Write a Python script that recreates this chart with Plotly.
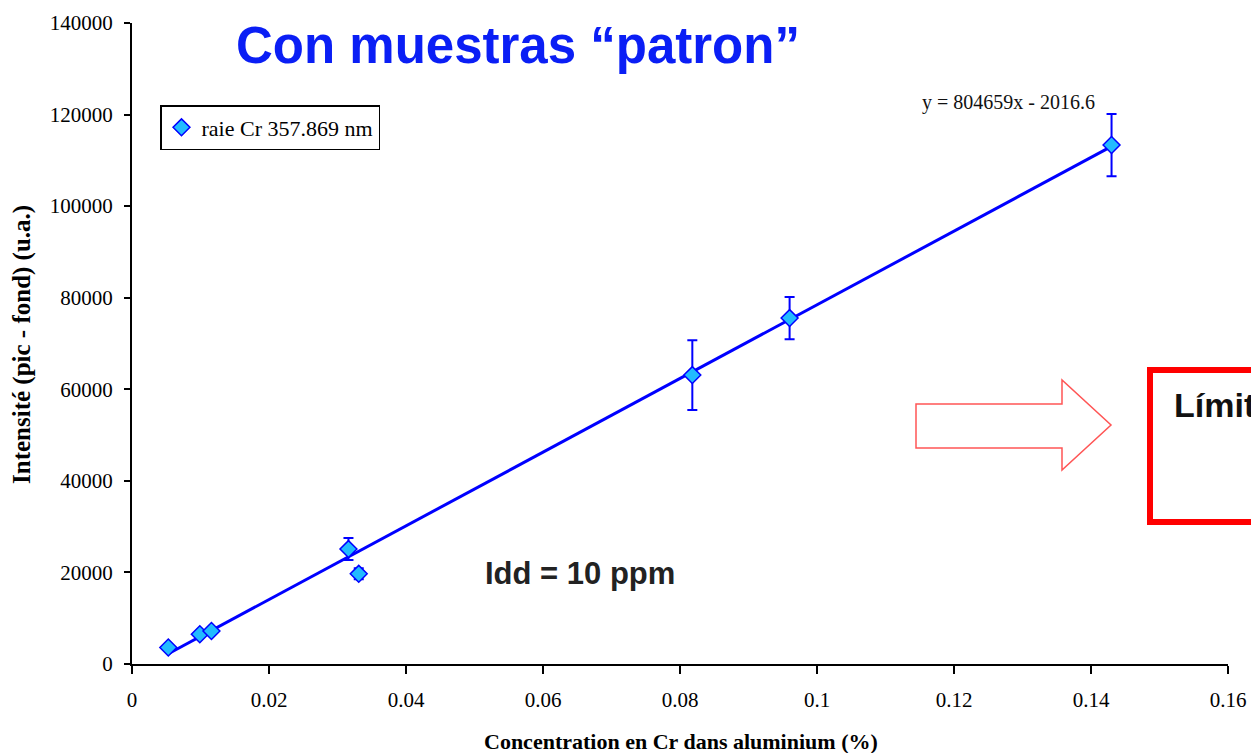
import numpy as np
import plotly.graph_objects as go

# Calibration standards: Cr concentration (%) vs net line intensity (a.u.)
conc_cr = [0.0053, 0.0099, 0.0116, 0.0316, 0.0331, 0.0818, 0.0960, 0.1430]
intensity = [3600, 6500, 7200, 25100, 19700, 63100, 75550, 113350]
intensity_err = [0, 0, 0, 2400, 1200, 7600, 4600, 6800]

# Linear fit reported on the chart
slope = 804659
intercept = -2016.6
fit_label = "y = 804659x - 2016.6"

series_name = "raie Cr 357.869 nm"
x_title = "Concentration en Cr dans aluminium (%)"
y_title = "Intensité (pic - fond) (u.a.)"
x_ticks = [0, 0.02, 0.04, 0.06, 0.08, 0.1, 0.12, 0.14, 0.16]
y_ticks = [0, 20000, 40000, 60000, 80000, 100000, 120000, 140000]

BLUE = "#0000ff"
SERIF = "Liberation Serif, Times New Roman, serif"
SANS = "Liberation Sans, Arial, sans-serif"

fit_x = np.array([min(conc_cr), max(conc_cr)])
fit_y = slope * fit_x + intercept

fig = go.Figure()

fig.add_trace(go.Scatter(
    x=fit_x, y=fit_y, mode="lines",
    line=dict(color=BLUE, width=3),
    showlegend=False, hoverinfo="skip",
))

fig.add_trace(go.Scatter(
    x=conc_cr, y=intensity, mode="markers", name=series_name,
    marker=dict(symbol="diamond", size=13, color="#22bbff",
                line=dict(color=BLUE, width=1.5)),
    error_y=dict(type="data", array=intensity_err, visible=True,
                 color=BLUE, thickness=2, width=5),
))

# pixel -> paper helpers for the decorative overlays
L, R, T, B = 132, 1228, 23, 664
def px(x):
    return (x - L) / (R - L)
def py(y):
    return (B - y) / (B - T)

# hollow block arrow pointing right
ax = [916, 1062, 1062, 1111, 1062, 1062, 916]
ay = [404, 404, 380, 425, 470, 448, 448]
path = "M " + " L ".join(f"{px(a):.5f},{py(b):.5f}" for a, b in zip(ax, ay)) + " Z"

shapes = [
    dict(type="path", xref="paper", yref="paper", path=path,
         line=dict(color="#ff5555", width=1.5), fillcolor="rgba(0,0,0,0)"),
    dict(type="rect", xref="paper", yref="paper",
         x0=px(1150), x1=px(1300), y0=py(370), y1=py(522),
         line=dict(color="#ff0000", width=6), fillcolor="rgba(0,0,0,0)"),
]

annotations = [
    dict(text="Con muestras “patron”", xref="paper", yref="paper",
         x=px(234), y=py(46), xanchor="left", yanchor="middle", showarrow=False,
         font=dict(family=SANS, size=51, color="#0a1ef5", weight="bold")),
    dict(text=fit_label, xref="paper", yref="paper",
         x=px(1008), y=py(102), xanchor="center", yanchor="middle", showarrow=False,
         font=dict(family=SERIF, size=20, color="#111111")),
    dict(text="Idd = 10 ppm", xref="paper", yref="paper",
         x=px(483), y=py(573), xanchor="left", yanchor="middle", showarrow=False,
         font=dict(family=SANS, size=31, color="#222222", weight="bold")),
    dict(text="Límite de detección", xref="paper", yref="paper",
         x=px(1172), y=py(405), xanchor="left", yanchor="middle", showarrow=False,
         font=dict(family=SANS, size=34, color="#111111", weight="bold")),
    dict(text=x_title, xref="paper", yref="paper",
         x=px(681), y=py(741), xanchor="center", yanchor="middle", showarrow=False,
         font=dict(family=SERIF, size=22, color="black", weight="bold")),
    dict(text=y_title, xref="paper", yref="paper", textangle=-90,
         x=px(22), y=py(345), xanchor="center", yanchor="middle", showarrow=False,
         font=dict(family=SERIF, size=25, color="black", weight="bold")),
]

fig.update_layout(
    width=1251, height=753,
    margin=dict(l=L, r=1251 - R, t=T, b=753 - B),
    paper_bgcolor="white", plot_bgcolor="white",
    showlegend=True,
    legend=dict(x=px(160), y=py(105), xanchor="left", yanchor="top",
                bordercolor="black", borderwidth=1.5, bgcolor="white",
                font=dict(family=SERIF, size=22, color="black"),
                itemwidth=30, tracegroupgap=0),
    shapes=shapes, annotations=annotations,
    xaxis=dict(range=[0, 0.16], tickvals=x_ticks, ticks="outside", ticklen=8,
               tickwidth=1.5, tickcolor="black", showline=True, linecolor="black",
               linewidth=2, showgrid=False, zeroline=False, automargin=False,
               ticklabelstandoff=8,
               tickfont=dict(family=SERIF, size=21, color="black")),
    yaxis=dict(range=[0, 140000], tickvals=y_ticks, tickformat="d", ticks="outside",
               ticklen=6, tickwidth=1.5, tickcolor="black", showline=True,
               linecolor="black", linewidth=2, showgrid=False, zeroline=False,
               automargin=False, ticklabelstandoff=7,
               tickfont=dict(family=SERIF, size=21, color="black")),
)

fig.write_html("out.html")
